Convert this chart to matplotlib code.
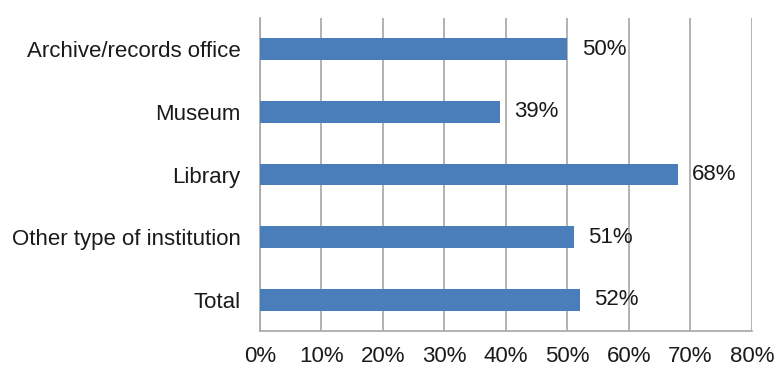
import matplotlib.pyplot as plt
from matplotlib.ticker import PercentFormatter

plt.rcParams["font.family"] = ["Liberation Sans", "DejaVu Sans"]

# data (top to bottom)
categories = [
    "Archive/records office",
    "Museum",
    "Library",
    "Other type of institution",
    "Total",
]
values = [50, 39, 68, 51, 52]
x_ticks = [0, 10, 20, 30, 40, 50, 60, 70, 80]

bar_color = "#4a7ebb"
grid_color = "#a6a6a6"
text_color = "#1a1a1a"
fs = 16

fig = plt.figure(figsize=(7.76, 3.67), dpi=100)
ax = fig.add_axes([0.335, 0.098, 0.634, 0.853])

ypos = list(range(len(categories)))
ax.barh(ypos, values, height=0.35, color=bar_color, zorder=3)

for y, v in zip(ypos, values):
    ax.text(v + 2.3, y, f"{v}%", va="center", ha="left",
            fontsize=fs, color=text_color)

ax.set_xlim(0, 80)
ax.set_ylim(len(categories) - 0.5, -0.5)
ax.set_yticks(ypos)
ax.set_yticklabels(categories, fontsize=fs, color=text_color)
ax.set_xticks(x_ticks)
ax.xaxis.set_major_formatter(PercentFormatter(decimals=0))
ax.tick_params(axis="x", labelsize=fs, colors=text_color, length=0, pad=11)
ax.tick_params(axis="y", length=0, pad=14)

ax.grid(axis="x", color=grid_color, linewidth=1.2, zorder=0)
for s in ["top", "right"]:
    ax.spines[s].set_visible(False)
ax.spines["left"].set_color(grid_color)
ax.spines["left"].set_linewidth(1.2)
ax.spines["bottom"].set_color(grid_color)
ax.spines["bottom"].set_linewidth(1.2)

plt.savefig("out.png", dpi=100)
